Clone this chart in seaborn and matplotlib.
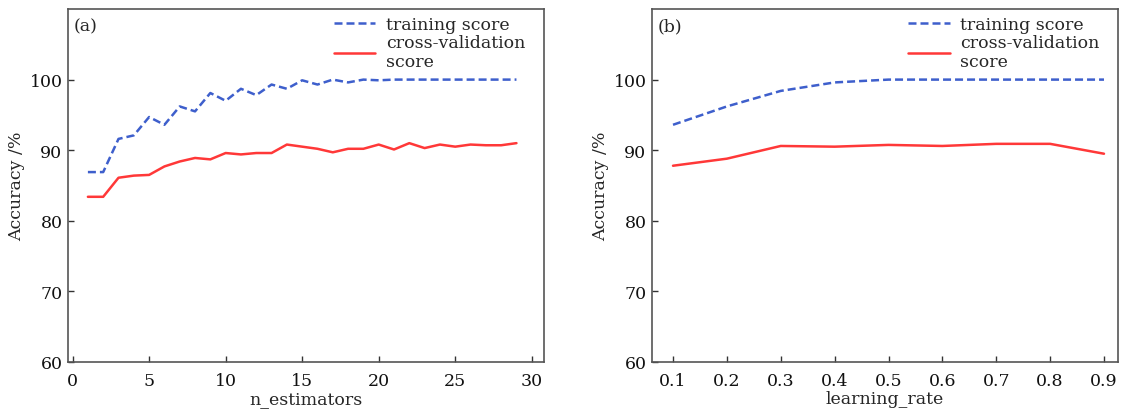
import matplotlib
matplotlib.use("Agg")
import matplotlib.pyplot as plt
import seaborn as sns
import pandas as pd

# ---- data ----
n_estimators = list(range(1, 30))
train_a = [86.9, 86.9, 91.6, 92.1, 94.7, 93.6, 96.2, 95.5, 98.1, 97.0,
           98.7, 97.8, 99.3, 98.7, 99.9, 99.3, 100.0, 99.6, 100.0, 99.9,
           100.0, 100.0, 100.0, 100.0, 100.0, 100.0, 100.0, 100.0, 100.0]
cv_a = [83.4, 83.4, 86.1, 86.4, 86.5, 87.7, 88.4, 88.9, 88.7, 89.6,
        89.4, 89.6, 89.6, 90.8, 90.5, 90.2, 89.7, 90.2, 90.2, 90.8,
        90.1, 91.0, 90.3, 90.8, 90.5, 90.8, 90.7, 90.7, 91.0]

learning_rate = [0.1, 0.2, 0.3, 0.4, 0.5, 0.6, 0.7, 0.8, 0.9]
train_b = [93.6, 96.2, 98.4, 99.6, 100.0, 100.0, 100.0, 100.0, 100.0]
cv_b = [87.8, 88.8, 90.6, 90.5, 90.75, 90.6, 90.9, 90.9, 89.5]

x_ticks_a = [0, 5, 10, 15, 20, 25, 30]
x_ticks_b = learning_rate
y_ticks = [60, 70, 80, 90, 100]

series_names = ["training score", "cross-validation\nscore"]
colors = {"training score": "#3e5fcc", "cross-validation\nscore": "#ff3838"}

sns.set_theme(style="ticks")
plt.rcParams["font.family"] = ["DejaVu Serif", "Liberation Serif"]

FS = 12.5

fig = plt.figure(figsize=(11.26, 4.10), dpi=100)
ax1 = fig.add_axes([68 / 1126, 1 - 363 / 410, 476 / 1126, 353 / 410])
ax2 = fig.add_axes([652 / 1126, 1 - 363 / 410, 466 / 1126, 353 / 410])


def make_df(x, tr, cv):
    return pd.DataFrame({
        "x": list(x) + list(x),
        "y": list(tr) + list(cv),
        "series": [series_names[0]] * len(x) + [series_names[1]] * len(x),
    })


panels = [
    (ax1, make_df(n_estimators, train_a, cv_a), "n_estimators", x_ticks_a, (-0.3, 30.8), "(a)"),
    (ax2, make_df(learning_rate, train_b, cv_b), "learning_rate", x_ticks_b, (0.061, 0.926), "(b)"),
]

for ax, df, xlabel, xt, xlim, tag in panels:
    sns.lineplot(data=df, x="x", y="y", hue="series", style="series",
                 palette=colors, dashes={series_names[0]: (3.2, 1.6), series_names[1]: ""},
                 linewidth=1.8, ax=ax)
    ax.set_xlim(*xlim)
    ax.set_ylim(60, 110)
    ax.set_xticks(xt)
    if tag == "(b)":
        ax.set_xticklabels([f"{v:.1f}" for v in xt])
    ax.set_yticks(y_ticks)
    ax.set_xlabel(xlabel, fontsize=FS, labelpad=1)
    ax.set_ylabel("Accuracy /%", fontsize=FS, labelpad=3)
    ax.tick_params(direction="in", length=4, width=1, labelsize=FS,
                   colors="#333333", labelcolor="#111111")
    ax.tick_params(axis="x", pad=7)
    ax.tick_params(axis="y", pad=4)
    for sp in ax.spines.values():
        sp.set_color("#555555")
        sp.set_linewidth(1.2)
        sp.set_visible(True)
    ax.text(0.012, 0.975, tag, transform=ax.transAxes, ha="left", va="top", fontsize=FS)
    leg = ax.legend(loc="upper right", frameon=False, fontsize=FS,
                    handlelength=2.4, borderaxespad=0.0, labelspacing=0.05,
                    handletextpad=0.6, bbox_to_anchor=(0.975, 1.0))
    leg.set_title(None)

fig.savefig("out.png", dpi=100)
